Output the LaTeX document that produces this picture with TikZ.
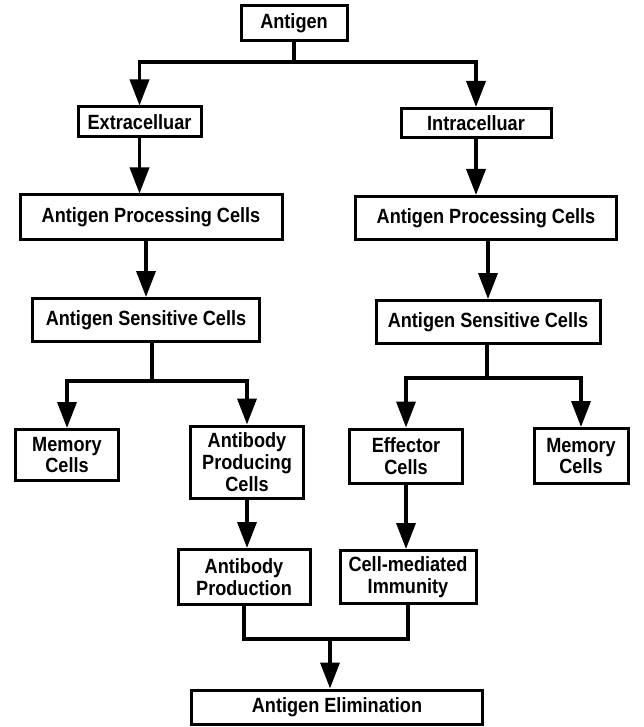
\documentclass[tikz,border=0pt]{standalone}
\usepackage{fontspec}
\setmainfont{Liberation Sans}[FakeStretch=0.88]
\usetikzlibrary{arrows.meta}
\begin{document}
\begin{tikzpicture}[x=1pt,y=-1pt,
  box/.style={draw, line width=3pt, align=center, inner sep=0pt,
    font=\bfseries\fontsize{20.6}{21.8}\selectfont},
  link/.style={line width=3.6pt, line join=miter},
  arr/.style={link, -{Triangle[length=26pt,width=19pt]}}]
\useasboundingbox[fill=white] (0,0) rectangle (644,727);
\node[box, minimum width=106, minimum height=35] (ant) at (294,23) {Antigen};
\node[box, minimum width=123, minimum height=30] (ext) at (139.5,122) {Extracelluar};
\node[box, minimum width=150, minimum height=29] (intra) at (476,123) {Intracelluar};
\node[box, minimum width=262, minimum height=44] (apcL) at (151,217) {Antigen Processing Cells};
\node[box, minimum width=261, minimum height=43] (apcR) at (486,218) {Antigen Processing Cells};
\node[box, minimum width=227, minimum height=43] (ascL) at (146,320) {Antigen Sensitive Cells};
\node[box, minimum width=224, minimum height=43] (ascR) at (488,322) {Antigen Sensitive Cells};
\node[box, minimum width=103, minimum height=51] (memL) at (67,455) {Memory\\Cells};
\node[box, minimum width=113, minimum height=72] (abpc) at (247,462) {Antibody\\Producing\\Cells};
\node[box, minimum width=113, minimum height=54] (eff) at (406,456) {Effector\\Cells};
\node[box, minimum width=94, minimum height=55] (memR) at (581,456) {Memory\\Cells};
\node[box, minimum width=132, minimum height=55] (abprod) at (244,577) {Antibody\\Production};
\node[box, minimum width=136, minimum height=53] (cmi) at (408,577) {Cell-mediated\\Immunity};
\node[box, minimum width=291, minimum height=34] (elim) at (337,707) {Antigen Elimination};
\coordinate (top) at (294,62);
\coordinate (splitL) at (152,381);
\coordinate (splitR) at (487,378);
\coordinate (join) at (330,639);
\draw[link] (ant) -- (top);
\draw[arr] (top) -| (ext);
\draw[arr] (top) -| (intra);
\draw[arr] (ext) -- (ext |- apcL.north);
\draw[arr] (intra) -- (intra |- apcR.north);
\draw[arr] (ascL |- apcL.south) -- (ascL);
\draw[arr] (ascR |- apcR.south) -- (ascR);
\draw[link] (ascL.south -| splitL) -- (splitL);
\draw[arr] (splitL) -| (memL);
\draw[arr] (splitL) -| (abpc);
\draw[link] (ascR.south -| splitR) -- (splitR);
\draw[arr] (splitR) -| (eff);
\draw[arr] (splitR) -| (memR);
\draw[arr] (abpc) -- (abpc |- abprod.north);
\draw[arr] (eff) -- (eff |- cmi.north);
\draw[link] (abprod) |- (join) -| (cmi);
\draw[arr] (join) -- (join |- elim.north);
\end{tikzpicture}
\end{document}
